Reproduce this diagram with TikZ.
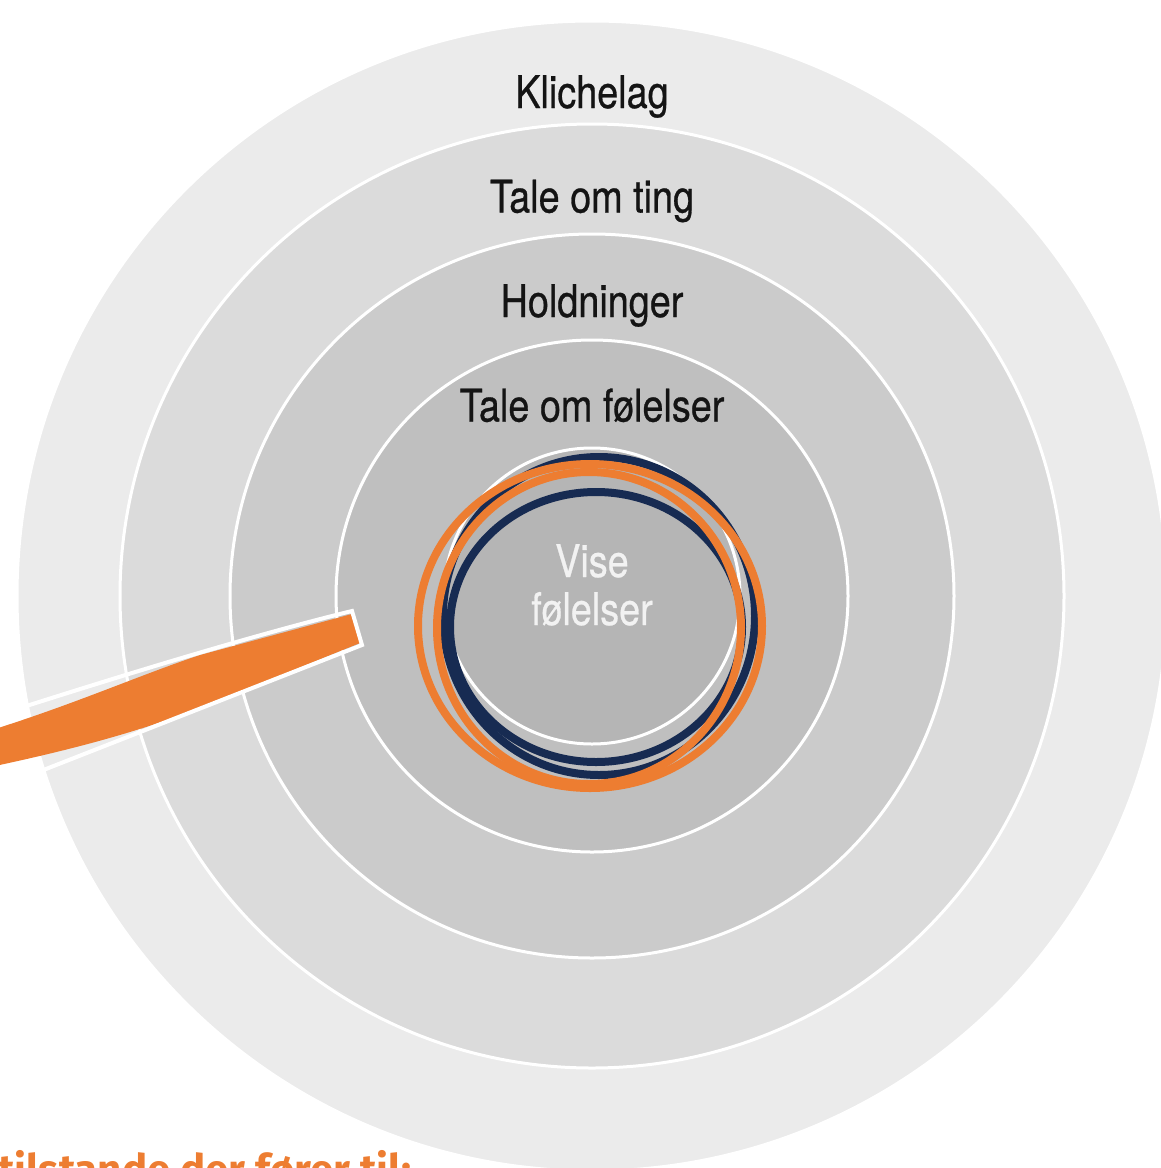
\documentclass[tikz,border=0pt]{standalone}
\usepackage{fontspec}
\setmainfont{TeX Gyre Heros}
\newfontfamily\ringfont{TeX Gyre Heros}[FakeStretch=0.84, FakeBold=0.6]
\newfontfamily\notefont{Fira Sans}
\usetikzlibrary{positioning}

\definecolor{ringA}{HTML}{EBEBEB}
\definecolor{ringB}{HTML}{DBDBDB}
\definecolor{ringC}{HTML}{CBCBCB}
\definecolor{ringD}{HTML}{BFBFBF}
\definecolor{ringE}{HTML}{B5B5B5}
\definecolor{markorange}{HTML}{ED7D31}
\definecolor{marknavy}{HTML}{172B52}

\begin{document}
\begin{tikzpicture}[x=0.5pt,y=-0.5pt,
  ringlabel/.style={font=\ringfont\fontsize{22.5}{24}\selectfont, text=black!92, inner sep=0pt, anchor=base},
  loop/.style={line width=4pt},
]
  \useasboundingbox (0,0) rectangle (1161,1168);
  \clip (0,0) rectangle (1161,1168);

  % centre of the rings
  \coordinate (mid) at (592,596);

  % Draw the rings, outermost first
  \foreach \r/\col in {575/ringA,472/ringB,362/ringC,256/ringD,148/ringE} {
    \filldraw[fill=\col, draw=white, line width=1.5pt] (mid) circle (\r);
  }

  % Layer names
  \foreach \txt [count=\i] in {Klichelag,Tale om ting,Holdninger,Tale om følelser} {
    \pgfmathsetmacro\y{108+(\i-1)*104.5}
    \node[ringlabel] (layer\i) at (592,\y) {\txt};
  }
  \node[ringlabel, text=white!95!black] (core1) at (592,577) {Vise};
  \node[ringlabel, text=white!95!black] (core2) at (592,625) {følelser};

  % Orange pointer with its white rim
  \fill[markorange] (-5,729) .. controls (80,702) and (140,675) .. (200,655)
    -- (352,614) -- (360,643) -- (200,708)
    .. controls (130,735) and (60,752) .. (-5,766) -- cycle;
  \draw[white, line width=2pt] (-5,716) .. controls (120,676) and (250,636) .. (352,611)
    -- (362,645) -- (-5,789);

  % Hand drawn loops round the core
  \draw[loop, marknavy] (599,616) ellipse[x radius=156, y radius=159];
  \draw[loop, marknavy] (596,627) ellipse[x radius=146, y radius=135];
  \draw[loop, markorange] (590,626) ellipse[x radius=172, y radius=162];
  \draw[loop, markorange] (589,628) ellipse[x radius=152, y radius=156];

  % Caption, cut off at the bottom
  \node[anchor=base west, text=markorange, inner sep=0pt,
    font=\notefont\bfseries\fontsize{21}{24}\selectfont] (note) at (-2,1184) {tilstande der fører til:};
\end{tikzpicture}
\end{document}
